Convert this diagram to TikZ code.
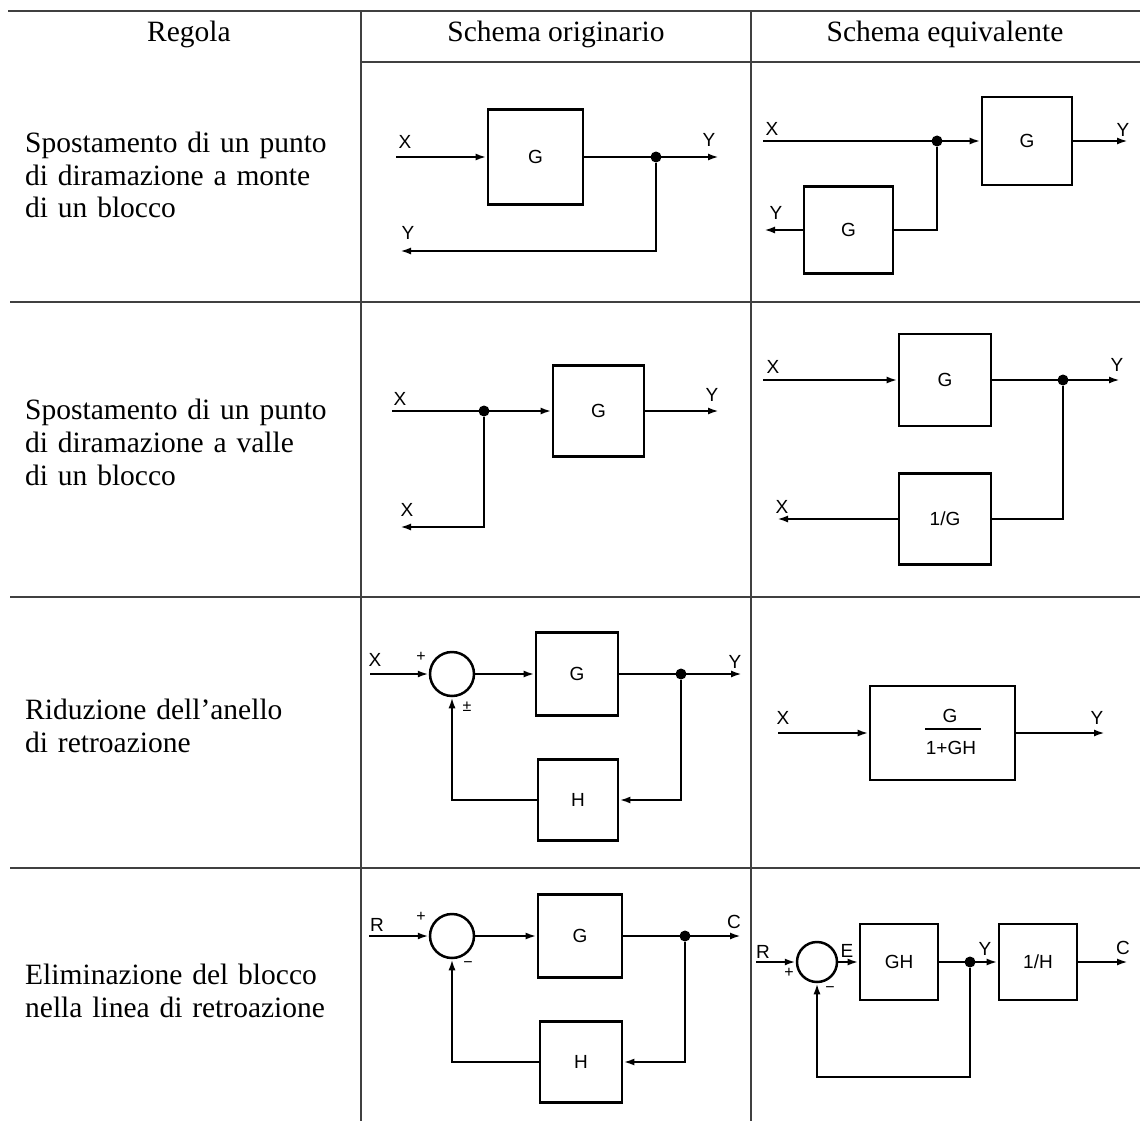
\documentclass[tikz,border=0pt]{standalone}
\usepackage{fontspec}
\setmainfont{Liberation Serif}
\setsansfont{Liberation Sans}
\usetikzlibrary{arrows.meta}

\begin{document}
\begin{tikzpicture}[x=1pt, y=-1pt,
    tabline/.style={black!75, line width=1.2pt},
    headtxt/.style={font=\fontsize{29.5}{33}\selectfont, inner sep=0pt, anchor=base},
    rowtxt/.style={headtxt, anchor=base west, align=left, text width=335pt},
    sig/.style={font=\sffamily\fontsize{19}{22}\selectfont, inner sep=0pt},
    sgn/.style={font=\sffamily\fontsize{16}{18}\selectfont, inner sep=0pt},
    blk/.style={draw, line width=2.8pt, sig},
    sum/.style={draw, circle, line width=2.5pt, minimum size=44pt, inner sep=0pt},
    tap/.style={circle, fill, inner sep=0pt, minimum size=11pt},
    wire/.style={line width=2.5pt},
    flow/.style={wire, -{Latex[length=11pt,width=7pt]}}]
    \useasboundingbox (0,0) rectangle (1140,1121);

    % Table rules
    \draw[tabline, line width=2pt] (8,11) -- (1140,11);
    \draw[tabline] (361,62) -- (1140,62);
    \foreach \y in {302,597,868}
        \draw[tabline] (10,\y) -- (1140,\y);
    \foreach \x in {361,751}
        \draw[tabline] (\x,11) -- (\x,1121);

    % Header
    \node (hRule) [headtxt] at (189,42) {Regola};
    \node (hOrig) [headtxt] at (556,42) {Schema originario};
    \node (hEquiv) [headtxt] at (945,42) {Schema equivalente};

    % Rules (first column)
    \node (r1) [rowtxt] at (25,152) {Spostamento di un punto\\di diramazione a monte\\di un blocco};
    \node (r2) [rowtxt] at (25,419) {Spostamento di un punto\\di diramazione a valle\\di un blocco};
    \node (r3) [rowtxt] at (25,719) {Riduzione dell’anello\\di retroazione};
    \node (r4) [rowtxt] at (25,984) {Eliminazione del blocco\\nella linea di retroazione};

    % Row 1, original: take-off after G
    \coordinate (in1) at (396,157);
    \node (G1) [blk, minimum width=95pt, minimum height=95pt] at (535.5,157) {G};
    \node (t1) [tap] at (656,157) {};
    \coordinate (out1) at (719,157);
    \coordinate (fb1) at (400,251);
    \draw[flow] (in1) -- (G1);
    \draw[flow] (G1) -- (out1);
    \draw[flow] (t1) |- (fb1);
    \node (x1) [sig] at (405,142) {X};
    \node (y1) [sig] at (709,140) {Y};
    \node (y1b) [sig] at (408,233) {Y};

    % Row 1, equivalent: take-off before G
    \coordinate (in2) at (763,141);
    \node (t2) [tap] at (937,141) {};
    \node (G2) [blk, minimum width=90pt, minimum height=88pt] at (1027,141) {G};
    \coordinate (out2) at (1128,141);
    \node (G2b) [blk, minimum width=89pt, minimum height=87pt] at (848.5,230) {G};
    \coordinate (fb2) at (764,230);
    \draw[flow] (in2) -- (G2);
    \draw[flow] (G2) -- (out2);
    \draw[wire] (t2) |- (G2b.east);
    \draw[flow] (G2b) -- (fb2);
    \node (x2) [sig] at (772,129) {X};
    \node (y2) [sig] at (1123,130) {Y};
    \node (y2b) [sig] at (776,213) {Y};

    % Row 2, original: take-off before G
    \coordinate (in3) at (392,411);
    \node (t3) [tap] at (484,411) {};
    \node (G3) [blk, minimum width=91pt, minimum height=91pt] at (598.5,411) {G};
    \coordinate (out3) at (719,411);
    \coordinate (fb3) at (400,527);
    \draw[flow] (in3) -- (G3);
    \draw[flow] (G3) -- (out3);
    \draw[flow] (t3) |- (fb3);
    \node (x3) [sig] at (400,399) {X};
    \node (y3) [sig] at (712,395) {Y};
    \node (x3b) [sig] at (407,510) {X};

    % Row 2, equivalent: take-off after G
    \coordinate (in4) at (763,380);
    \node (G4) [blk, minimum width=92pt, minimum height=92pt] at (945,380) {G};
    \node (t4) [tap] at (1063,380) {};
    \coordinate (out4) at (1120,380);
    \node (iG4) [blk, minimum width=92pt, minimum height=91pt] at (945,519) {1/G};
    \coordinate (fb4) at (777,519);
    \draw[flow] (in4) -- (G4);
    \draw[flow] (G4) -- (out4);
    \draw[wire] (t4) |- (iG4.east);
    \draw[flow] (iG4) -- (fb4);
    \node (x4) [sig] at (773,367) {X};
    \node (y4) [sig] at (1117,365) {Y};
    \node (x4b) [sig] at (782,507) {X};

    % Row 3, original: feedback loop
    \coordinate (in5) at (370,674);
    \node (s5) [sum] at (452,674) {};
    \node (G5) [blk, minimum width=82pt, minimum height=83pt] at (577,674) {G};
    \node (t5) [tap] at (681,674) {};
    \coordinate (out5) at (742,674);
    \node (H5) [blk, minimum width=80pt, minimum height=81pt] at (578,800) {H};
    \draw[flow] (in5) -- (s5);
    \draw[flow] (s5) -- (G5);
    \draw[flow] (G5) -- (out5);
    \draw[flow] (t5) |- (H5.east);
    \draw[flow] (H5.west) -| (s5.south);
    \node (x5) [sig] at (375,660) {X};
    \node (y5) [sig] at (735,662) {Y};
    \node (p5) [sgn] at (421,657) {+};
    \node (pm5) [sgn] at (467,707) {±};

    % Row 3, equivalent: closed-loop block
    \coordinate (in6) at (778,733);
    \node (F6) [blk, minimum width=145pt, minimum height=94pt] at (942.5,733) {};
    \coordinate (out6) at (1105,733);
    \draw[flow] (in6) -- (F6);
    \draw[flow] (F6) -- (out6);
    \node (num6) [sig] at (950,716) {G};
    \coordinate (barL6) at (925,729);
    \coordinate (barR6) at (981,729);
    \draw[line width=1.8pt] (barL6) -- (barR6);
    \node (den6) [sig] at (951,748) {1+GH};
    \node (x6) [sig] at (783,718) {X};
    \node (y6) [sig] at (1097,718) {Y};

    % Row 4, original: feedback loop with H
    \coordinate (in7) at (369,936);
    \node (s7) [sum] at (452,936) {};
    \node (G7) [blk, minimum width=84pt, minimum height=83pt] at (580,936) {G};
    \node (t7) [tap] at (685,936) {};
    \coordinate (out7) at (741,936);
    \node (H7) [blk, minimum width=82pt, minimum height=81pt] at (581,1062) {H};
    \draw[flow] (in7) -- (s7);
    \draw[flow] (s7) -- (G7);
    \draw[flow] (G7) -- (out7);
    \draw[flow] (t7) |- (H7.east);
    \draw[flow] (H7.west) -| (s7.south);
    \node (r7) [sig] at (377,925) {R};
    \node (c7) [sig] at (734,922) {C};
    \node (p7) [sgn] at (421,917) {+};
    \node (m7) [sgn] at (468,965) {−};

    % Row 4, equivalent: unity feedback then 1/H
    \coordinate (in8) at (756,962);
    \node (s8) [sum, minimum size=40pt] at (817,962) {};
    \node (GH8) [blk, minimum width=78pt, minimum height=76pt] at (899,962) {GH};
    \node (t8) [tap] at (970,962) {};
    \node (iH8) [blk, minimum width=78pt, minimum height=76pt] at (1038,962) {1/H};
    \coordinate (out8) at (1128,962);
    \coordinate (fb8) at (970,1077);
    \draw[flow] (in8) -- (s8);
    \draw[flow] (s8) -- (GH8);
    \draw[flow] (GH8) -- (iH8);
    \draw[flow] (iH8) -- (out8);
    \draw[flow] (t8) -- (fb8) -| (s8.south);
    \node (r8) [sig] at (763,952) {R};
    \node (e8) [sig] at (847,951) {E};
    \node (y8) [sig] at (985,949) {Y};
    \node (c8) [sig] at (1123,948) {C};
    \node (p8) [sgn] at (789,973) {+};
    \node (m8) [sgn] at (830,990) {−};
\end{tikzpicture}
\end{document}
